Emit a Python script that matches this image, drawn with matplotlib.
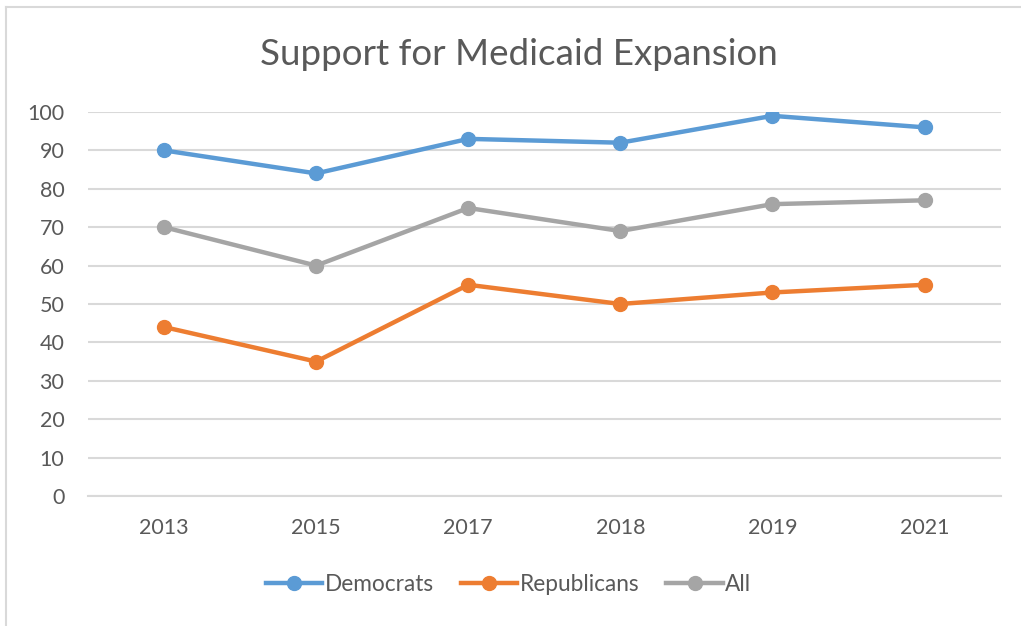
import matplotlib.pyplot as plt
from matplotlib.lines import Line2D

years = ["2013", "2015", "2017", "2018", "2019", "2021"]
democrats = [90, 84, 93, 92, 99, 96]
republicans = [44, 35, 55, 50, 53, 55]
all_voters = [70, 60, 75, 69, 76, 77]

plt.rcParams['font.family'] = ['Lato', 'DejaVu Sans']
text_color = "#595959"

fig = plt.figure(figsize=(10.21, 6.26), dpi=100)
ax = fig.add_axes([0.0862, 0.2077, 0.8938, 0.6134])

x = range(len(years))
series = [
    ("Democrats", democrats, "#5B9BD5"),
    ("Republicans", republicans, "#ED7D31"),
    ("All", all_voters, "#A5A5A5"),
]
for name, vals, col in series:
    ax.plot(x, vals, color=col, lw=3.2, marker="o", ms=10, label=name,
            solid_capstyle="round")

ax.set_xlim(-0.5, len(years) - 0.5)
ax.set_ylim(0, 100)
ax.set_yticks(range(0, 101, 10))
ax.set_xticks(list(x))
ax.set_xticklabels(years)
ax.yaxis.grid(True, color="#D9D9D9", lw=1.5)
ax.set_axisbelow(True)
for s in ["top", "right", "left"]:
    ax.spines[s].set_visible(False)
ax.spines["bottom"].set_color("#D9D9D9")
ax.spines["bottom"].set_linewidth(1.5)
ax.tick_params(length=0, labelsize=15.5, labelcolor=text_color)
ax.tick_params(axis="x", pad=16)
ax.tick_params(axis="y", pad=17)

fig.text(0.508, 0.913, "Support for Medicaid Expansion", ha="center", va="center",
         fontsize=26.5, color=text_color)

handles = [Line2D([], [], color=c, lw=3.2, marker="o", ms=10) for _, _, c in series]
fig.legend(handles, [s[0] for s in series], loc="center", bbox_to_anchor=(0.498, 0.066),
           ncol=3, frameon=False, fontsize=16.3, labelcolor=text_color,
           handlelength=2.5, handletextpad=0.1, columnspacing=1.2)

# chart frame (left and top edges visible)
fig.add_artist(Line2D([0.006, 0.006], [0.0, 0.989], color="#D9D9D9", lw=1.5))
fig.add_artist(Line2D([0.006, 1.0], [0.989, 0.989], color="#D9D9D9", lw=1.5))

fig.savefig("out.png", dpi=100)
